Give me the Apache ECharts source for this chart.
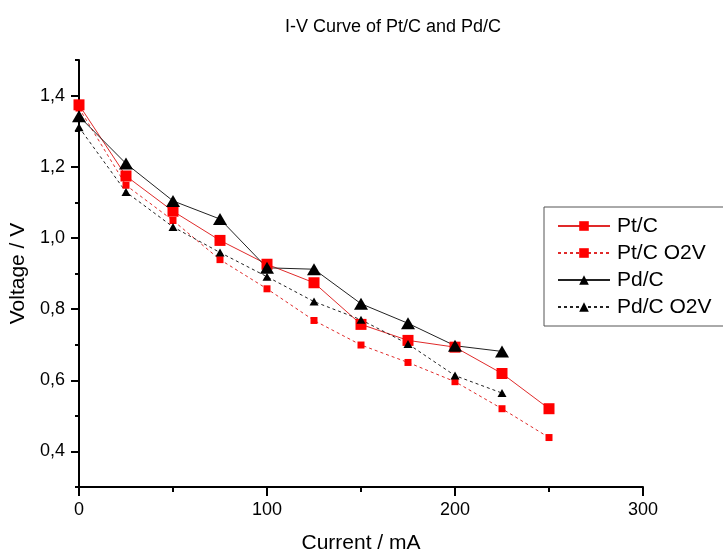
<!DOCTYPE html>
<html>
<head>
<meta charset="utf-8">
<script src="https://cdn.jsdelivr.net/npm/echarts@6/dist/echarts.min.js"></script>
<style>html,body{margin:0;padding:0;background:#fff;}#c{width:723px;height:553px;}</style>
</head>
<body>
<div id="c"></div>
<script>
var currents = [0, 25, 50, 75, 100, 125, 150, 175, 200, 225, 250];
var ptc      = [1.374, 1.174, 1.075, 0.993, 0.926, 0.874, 0.757, 0.712, 0.693, 0.619, 0.520];
var ptcO2V   = [1.365, 1.148, 1.049, 0.939, 0.857, 0.768, 0.699, 0.650, 0.596, 0.520, 0.439];
var pdc      = [1.342, 1.209, 1.104, 1.053, 0.916, 0.912, 0.815, 0.760, 0.697, 0.681];
var pdcO2V   = [1.311, 1.129, 1.031, 0.959, 0.891, 0.821, 0.770, 0.702, 0.613, 0.564];
var seriesNames = ['Pt/C', 'Pt/C O2V', 'Pd/C', 'Pd/C O2V'];
var yMajorTicks = [0.4, 0.6, 0.8, 1.0, 1.2, 1.4];

function pairs(xs, ys) { return ys.map(function (y, i) { return [xs[i], y]; }); }

var FONT = 'Liberation Sans, Arial, sans-serif';
var chart = echarts.init(document.getElementById('c'), null, {renderer: 'canvas'});
var axisLineStyle = {color: '#000', width: 2};

chart.setOption({
  animation: false,
  backgroundColor: '#fff',
  title: {
    text: 'I-V Curve of Pt/C and Pd/C',
    left: 388, top: 13, textAlign: 'center',
    textStyle: {fontFamily: FONT, fontSize: 18, fontWeight: 'normal', color: '#000'}
  },
  legend: {
    orient: 'vertical',
    left: 544, top: 207,
    padding: [8, 60, 8, 13],
    itemGap: 5,
    itemWidth: 52, itemHeight: 12,
    borderColor: '#555', borderWidth: 1,
    backgroundColor: '#fff',
    textStyle: {fontFamily: FONT, fontSize: 21, color: '#000', lineHeight: 22, padding: [0, 0, 0, 2]},
    data: seriesNames
  },
  grid: {left: 79, right: 80, top: 60, bottom: 66, containLabel: false, outerBoundsMode: 'none'},
  xAxis: {
    type: 'value', min: 0, max: 300, interval: 100,
    name: 'Current / mA', nameLocation: 'middle', nameGap: 46,
    nameTextStyle: {fontFamily: FONT, fontSize: 21, color: '#000'},
    axisLine: {show: true, onZero: false, lineStyle: axisLineStyle},
    axisTick: {show: true, length: 9, lineStyle: axisLineStyle},
    minorTick: {show: true, splitNumber: 2, length: 5, lineStyle: axisLineStyle},
    axisLabel: {fontFamily: FONT, fontSize: 18, color: '#000', margin: 14},
    splitLine: {show: false}
  },
  yAxis: [{
    type: 'value', min: 0.3, max: 1.5, interval: 0.1,
    name: 'Voltage / V', nameLocation: 'middle', nameGap: 44,
    nameTextStyle: {fontFamily: FONT, fontSize: 21, color: '#000'},
    axisLine: {show: true, onZero: false, lineStyle: axisLineStyle},
    axisTick: {show: true, length: 4, lineStyle: axisLineStyle},
    axisLabel: {
      fontFamily: FONT, fontSize: 18, color: '#000', margin: 14,
      formatter: function (v) {
        var k = Math.round(v * 10);
        if (k % 2 !== 0) return '';
        return (k / 10).toFixed(1).replace('.', ',');
      }
    },
    splitLine: {show: false}
  }, {
    type: 'value', min: 0.3, max: 1.5, position: 'left',
    axisLine: {show: false},
    axisTick: {show: true, length: 8, customValues: yMajorTicks, lineStyle: axisLineStyle},
    axisLabel: {show: false},
    splitLine: {show: false}
  }],
  series: [{
    name: 'Pt/C', type: 'line', data: pairs(currents, ptc),
    symbol: 'rect', symbolSize: 11,
    itemStyle: {color: '#ff0000'},
    lineStyle: {color: '#e02a2a', width: 1}
  }, {
    name: 'Pt/C O2V', type: 'line', data: pairs(currents, ptcO2V),
    symbol: 'rect', symbolSize: 7,
    itemStyle: {color: '#ff0000'},
    lineStyle: {color: '#e02a2a', width: 1, type: [3, 3]}
  }, {
    name: 'Pd/C', type: 'line', data: pairs(currents, pdc),
    symbol: 'triangle', symbolSize: [14, 12],
    itemStyle: {color: '#000'},
    lineStyle: {color: '#222', width: 1}
  }, {
    name: 'Pd/C O2V', type: 'line', data: pairs(currents, pdcO2V),
    symbol: 'triangle', symbolSize: [9, 8],
    itemStyle: {color: '#000'},
    lineStyle: {color: '#222', width: 1, type: [3, 3]}
  }]
});
</script>
</body>
</html>
